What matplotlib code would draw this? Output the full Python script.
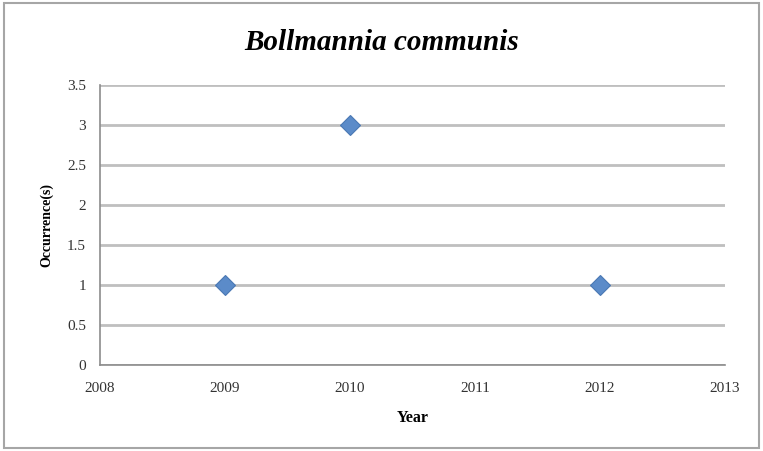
import matplotlib.pyplot as plt
from matplotlib.patches import Rectangle

years = [2009, 2010, 2012]
occurrences = [1, 3, 1]
yticks = [0, 0.5, 1, 1.5, 2, 2.5, 3, 3.5]
xticks = [2008, 2009, 2010, 2011, 2012, 2013]

plt.rcParams['font.family'] = ['Liberation Serif', 'DejaVu Serif']

fig = plt.figure(figsize=(7.63, 4.51), dpi=100)
# outer chart border
fig.patches.append(Rectangle((0.005, 0.006), 0.99, 0.987, transform=fig.transFigure,
                             fill=False, edgecolor='#a6a6a6', linewidth=1.5))

ax = fig.add_axes([0.131, 0.1907, 0.819, 0.6208])
ax.plot(years, occurrences, linestyle='none', marker='D', markersize=10,
        color='#5b8bc9', markeredgecolor='#4a78b3', markeredgewidth=0.8, zorder=3)

ax.set_xlim(2008, 2013)
ax.set_ylim(0, 3.5)
ax.set_xticks(xticks)
ax.set_xticklabels([str(x) for x in xticks])
ax.set_yticks(yticks)
ax.set_yticklabels(['0', '0.5', '1', '1.5', '2', '2.5', '3', '3.5'])
ax.tick_params(length=0, labelsize=11, colors='#333333')
ax.tick_params(axis='x', pad=12)
ax.tick_params(axis='y', pad=10)

ax.grid(axis='y', color='#bfbfbf', linewidth=2)
ax.set_axisbelow(True)
for side in ['top', 'right']:
    ax.spines[side].set_visible(False)
ax.spines['left'].set_color('#8c8c8c')
ax.spines['bottom'].set_color('#8c8c8c')
ax.spines['left'].set_linewidth(1.2)
ax.spines['bottom'].set_linewidth(1.2)

ax.set_xlabel('Year', fontsize=11.5, fontweight='bold', labelpad=11)
ax.set_ylabel('Occurrence(s)', fontsize=10, fontweight='bold', labelpad=10)
fig.text(0.5, 0.905, 'Bollmannia communis', ha='center', va='center',
         fontsize=21, fontweight='bold', fontstyle='italic')

fig.savefig('out.png', dpi=100)
